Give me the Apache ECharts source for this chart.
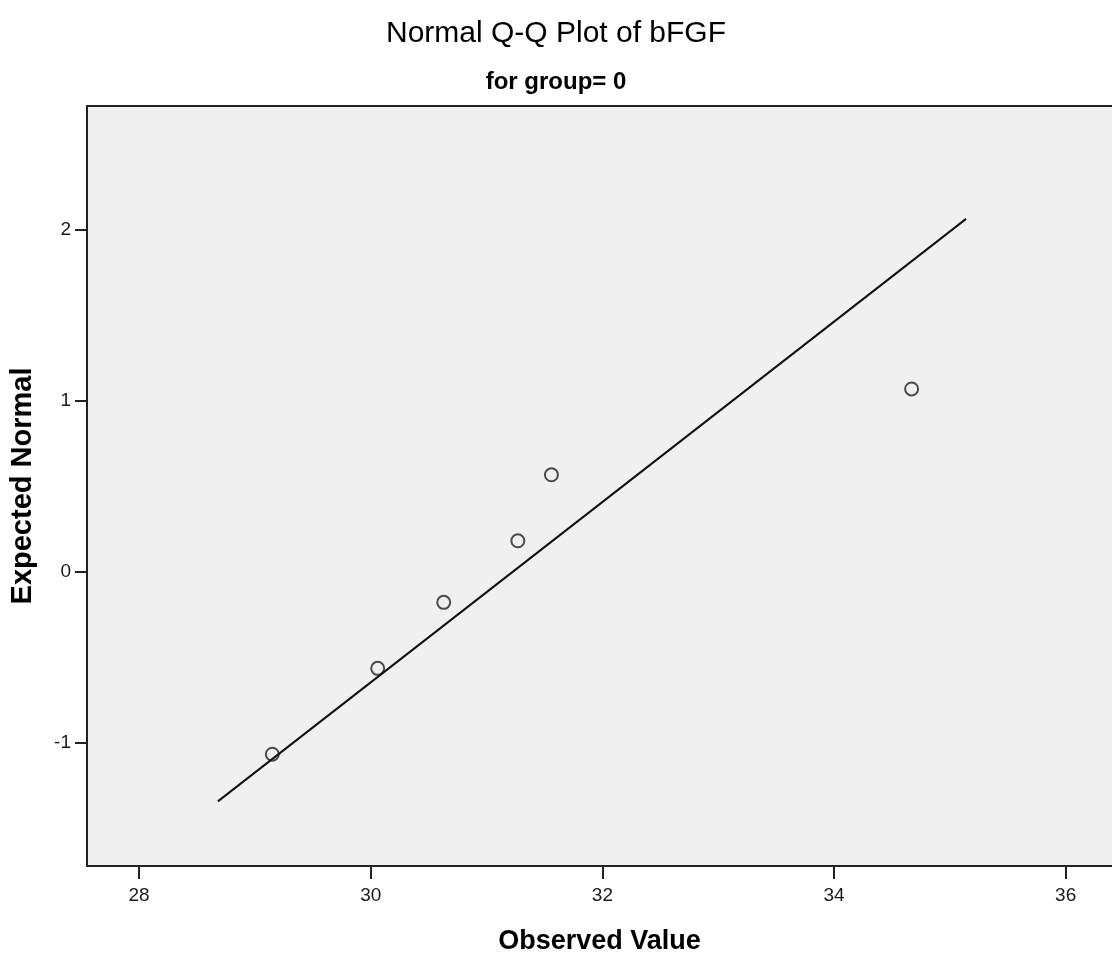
<!DOCTYPE html>
<html>
<head>
<meta charset="utf-8">
<script src="https://cdn.jsdelivr.net/npm/echarts@6/dist/echarts.min.js"></script>
<style>
html, body { margin: 0; padding: 0; background: #fff; }
#container { width: 1112px; height: 960px; }
</style>
</head>
<body>
<div id="container"></div>
<script>
var observed = [29.15, 30.06, 30.63, 31.27, 31.56, 34.67];
var expected = [-1.068, -0.566, -0.180, 0.180, 0.566, 1.068];
// reference line end points
var lineX = [28.68, 35.14];
var lineY = [-1.344, 2.063];
// tick labels
var xTicks = [28, 30, 32, 34, 36];
var yTicks = [-1, 0, 1, 2];

var dom = document.getElementById("container");
var myChart = echarts.init(dom);
var font = "'Liberation Sans', Arial, sans-serif";

var points = observed.map(function (v, i) { return [v, expected[i]]; });
var lineData = lineX.map(function (v, i) { return [v, lineY[i]]; });

var xMin = 27.55, xMax = 36.40;

var option = {
    animation: false,
    title: [{
        text: 'Normal Q-Q Plot of bFGF',
        left: 'center',
        top: 14,
        textStyle: { fontFamily: font, fontSize: 30, fontWeight: 'normal', color: '#000' }
    }, {
        text: 'for group= 0',
        left: 'center',
        top: 65,
        textStyle: { fontFamily: font, fontSize: 24, fontWeight: 'bold', color: '#000' }
    }],
    grid: {
        left: 87,
        right: 0,
        top: 106,
        bottom: 92,
        show: true,
        backgroundColor: '#f0f0f0',
        borderWidth: 0
    },
    xAxis: [{
        type: 'value',
        min: xMin,
        max: xMax,
        name: 'Observed Value',
        nameLocation: 'middle',
        nameGap: 62,
        nameTextStyle: { fontFamily: font, fontSize: 27, fontWeight: 'bold', color: '#000' },
        splitLine: { show: false },
        axisLine: { show: true, onZero: false, lineStyle: { color: '#222', width: 2 } },
        axisTick: { show: true, length: 13, customValues: xTicks, lineStyle: { color: '#222', width: 2 } },
        axisLabel: { margin: 20, customValues: xTicks, fontFamily: font, fontSize: 19, color: '#1a1a1a' }
    }, {
        // top edge of the box only
        type: 'value',
        position: 'top',
        min: xMin,
        max: xMax,
        splitLine: { show: false },
        axisLine: { show: true, onZero: false, lineStyle: { color: '#222', width: 2 } },
        axisTick: { show: false },
        axisLabel: { show: false }
    }],
    yAxis: {
        type: 'value',
        min: -1.722,
        max: 2.723,
        name: 'Expected Normal',
        nameLocation: 'middle',
        nameGap: 50,
        nameTextStyle: { fontFamily: font, fontSize: 29, fontWeight: 'bold', color: '#000' },
        splitLine: { show: false },
        axisLine: { show: true, onZero: false, lineStyle: { color: '#222', width: 2 } },
        axisTick: { show: true, length: 12, customValues: yTicks, lineStyle: { color: '#222', width: 2 } },
        axisLabel: { margin: 16, customValues: yTicks, fontFamily: font, fontSize: 19, color: '#1a1a1a' }
    },
    series: [{
        type: 'line',
        data: lineData,
        symbol: 'none',
        silent: true,
        lineStyle: { color: '#111', width: 2 }
    }, {
        type: 'scatter',
        data: points,
        symbol: 'circle',
        symbolSize: 13,
        itemStyle: { color: 'transparent', borderColor: '#222', borderWidth: 2 }
    }]
};

myChart.setOption(option, true);
</script>
</body>
</html>
